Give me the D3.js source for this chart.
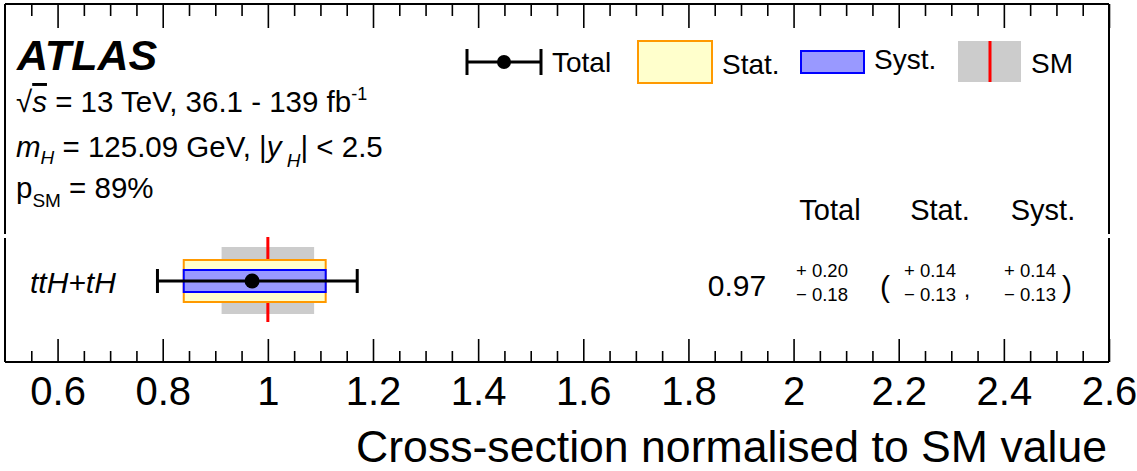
<!DOCTYPE html>
<html>
<head>
<meta charset="utf-8">
<script src="https://cdn.jsdelivr.net/npm/d3@7"></script>
<style>
  html, body { margin: 0; padding: 0; background: #fff; }
  svg { display: block; font-family: "Liberation Sans", Arial, Helvetica, sans-serif; }
</style>
</head>
<body>
<svg id="chart" width="1137" height="471"></svg>
<script>
// Measured cross-section, normalised to the SM prediction
const categories = ["ttH+tH"];
const central    = [0.97];
const totalUp    = [0.20];
const totalDown  = [0.18];
const statUp     = [0.14];
const statDown   = [0.13];
const systUp     = [0.14];
const systDown   = [0.13];
// SM prediction and its theory band
const smValue    = [1.0];
const smUp       = [0.088];
const smDown     = [0.088];
// Axis
const majorTicks = [0.6, 0.8, 1.0, 1.2, 1.4, 1.6, 1.8, 2.0, 2.2, 2.4, 2.6];
const minorTicks = d3.range(0.55, 2.6, 0.05).map(v => +v.toFixed(2))
  .filter(v => !majorTicks.some(m => Math.abs(m - v) < 1e-6));
const tickFormat = v => (Math.abs(v - Math.round(v)) < 1e-9 ? String(Math.round(v)) : v.toFixed(1));

const svg = d3.select("#chart");
const frameL = 5, frameR = 1109, frameT = 4, frameB = 362;

const x = d3.scaleLinear().domain([0.5, 2.6]).range([frameL, frameR]);
const y = d3.scaleBand().domain(categories).range([238, 324]);
const yc = c => y(c) + y.bandwidth() / 2;

const sans = '"Liberation Sans", Arial, Helvetica, sans-serif';

// ---- frame (upper and lower pads meet with a small gap on the sides)
const frame = svg.append("g").attr("stroke", "#000").attr("stroke-width", 2).attr("fill", "none");
frame.append("line").attr("x1", frameL).attr("x2", frameR).attr("y1", frameT).attr("y2", frameT);
frame.append("line").attr("x1", frameL).attr("x2", frameR).attr("y1", frameB).attr("y2", frameB);
[[frameT, 234], [238, frameB]].forEach(([a, b]) => {
  frame.append("line").attr("x1", frameL).attr("x2", frameL).attr("y1", a).attr("y2", b);
  frame.append("line").attr("x1", frameR).attr("x2", frameR).attr("y1", a).attr("y2", b);
});

// ---- ticks on top and bottom edges
function tickAxis(gen, yPos, size, values) {
  const g = svg.append("g").attr("transform", `translate(0,${yPos})`)
    .call(gen(x).tickValues(values).tickSizeInner(size).tickSizeOuter(0).tickFormat(tickFormat));
  g.select(".domain").remove();
  g.selectAll(".tick line").attr("stroke", "#000").attr("stroke-width", 1.6);
  return g;
}
const bMajor = tickAxis(d3.axisBottom, frameB, -23, majorTicks);
tickAxis(d3.axisBottom, frameB, -11, minorTicks).selectAll("text").remove();
tickAxis(d3.axisTop, frameT, -24, majorTicks).selectAll("text").remove();
tickAxis(d3.axisTop, frameT, -12, minorTicks).selectAll("text").remove();

bMajor.selectAll(".tick text")
  .attr("y", 43).attr("dy", null)
  .attr("font-family", sans).attr("font-size", 40).attr("fill", "#000");

svg.append("text")
  .attr("x", 1107).attr("y", 462).attr("text-anchor", "end")
  .attr("font-size", 44.6).attr("fill", "#000")
  .text("Cross-section normalised to SM value");

// ---- per-category marks: SM band, SM line, stat/syst boxes, total error bar
const plot = svg.append("g");
categories.forEach((c, i) => {
  const cy = yc(c);
  plot.append("rect")
    .attr("x", x(smValue[i] - smDown[i])).attr("width", x(smValue[i] + smUp[i]) - x(smValue[i] - smDown[i]))
    .attr("y", cy - 34).attr("height", 67).attr("fill", "#cccccc");
  plot.append("line")
    .attr("x1", x(smValue[i])).attr("x2", x(smValue[i]))
    .attr("y1", cy - 44).attr("y2", cy + 41)
    .attr("stroke", "#ff0000").attr("stroke-width", 3);
  plot.append("rect")
    .attr("x", x(central[i] - statDown[i])).attr("width", x(central[i] + statUp[i]) - x(central[i] - statDown[i]))
    .attr("y", cy - 21).attr("height", 42)
    .attr("fill", "#ffffcc").attr("stroke", "#ff9900").attr("stroke-width", 2);
  plot.append("rect")
    .attr("x", x(central[i] - systDown[i])).attr("width", x(central[i] + systUp[i]) - x(central[i] - systDown[i]))
    .attr("y", cy - 11).attr("height", 22)
    .attr("fill", "#9999ff").attr("stroke", "#0000ff").attr("stroke-width", 2);
  const lo = x(central[i] - totalDown[i]), hi = x(central[i] + totalUp[i]);
  const eb = plot.append("g").attr("stroke", "#000").attr("stroke-width", 3);
  eb.append("line").attr("x1", lo).attr("x2", hi).attr("y1", cy).attr("y2", cy);
  eb.append("line").attr("x1", lo).attr("x2", lo).attr("y1", cy - 12).attr("y2", cy + 12);
  eb.append("line").attr("x1", hi).attr("x2", hi).attr("y1", cy - 12).attr("y2", cy + 12);
  plot.append("circle").attr("cx", x(central[i])).attr("cy", cy).attr("r", 7.5).attr("fill", "#000");

  // category label
  svg.append("text").attr("x", 30).attr("y", cy + 12)
    .attr("font-size", 30).attr("font-style", "italic").text(c);

  // numeric summary
  const fmt = v => v.toFixed(2);
  svg.append("text").attr("x", 737).attr("y", cy + 15).attr("text-anchor", "middle")
    .attr("font-size", 30).text(central[i].toFixed(2));
  const pair = (xp, up, dn) => {
    svg.append("text").attr("x", xp).attr("y", cy - 4).attr("font-size", 18.5).text("+ " + fmt(up));
    svg.append("text").attr("x", xp).attr("y", cy + 20).attr("font-size", 18.5).text("\u2212 " + fmt(dn));
  };
  pair(796, totalUp[i], totalDown[i]);
  svg.append("text").attr("x", 880).attr("y", cy + 16).attr("font-size", 30).text("(");
  pair(904, statUp[i], statDown[i]);
  svg.append("text").attr("x", 964).attr("y", cy + 16).attr("font-size", 22).text(",");
  pair(1004, systUp[i], systDown[i]);
  svg.append("text").attr("x", 1062).attr("y", cy + 16).attr("font-size", 30).text(")");
});

// column headers
[["Total", 830], ["Stat.", 940], ["Syst.", 1043]].forEach(([t, xp]) => {
  svg.append("text").attr("x", xp).attr("y", 220).attr("text-anchor", "middle")
    .attr("font-size", 29).text(t);
});

// ---- ATLAS label and info text
svg.append("text").attr("x", 17).attr("y", 70)
  .attr("font-size", 43).attr("font-weight", "bold").attr("font-style", "italic").text("ATLAS");

const l2 = svg.append("text").attr("x", 16).attr("y", 112).attr("font-size", 29.5);
l2.append("tspan").text("\u221A");
l2.append("tspan").attr("font-style", "italic").attr("text-decoration", "overline").text("s");
l2.append("tspan").text(" = 13 TeV, 36.1 - 139 fb");
l2.append("tspan").attr("dy", -12).attr("font-size", 18).text("-1");

const l3 = svg.append("text").attr("x", 16).attr("y", 157).attr("font-size", 29.5);
l3.append("tspan").attr("font-style", "italic").text("m");
l3.append("tspan").attr("font-style", "italic").attr("font-size", 19).attr("dy", 7).text("H");
l3.append("tspan").attr("dy", -7).text(" = 125.09 GeV, |");
l3.append("tspan").attr("font-style", "italic").text("y");
l3.append("tspan").attr("font-style", "italic").attr("font-size", 19).attr("dy", 10).text(" H");
l3.append("tspan").attr("dy", -10).text("| < 2.5");

const l4 = svg.append("text").attr("x", 16).attr("y", 198).attr("font-size", 29.5);
l4.append("tspan").text("p");
l4.append("tspan").attr("font-size", 19).attr("dy", 9).text("SM");
l4.append("tspan").attr("dy", -9).text(" = 89%");

// ---- legend
const lg = svg.append("g");
// Total
lg.append("g").attr("stroke", "#000").attr("stroke-width", 3).call(g => {
  g.append("line").attr("x1", 467).attr("x2", 541).attr("y1", 62).attr("y2", 62);
  g.append("line").attr("x1", 467).attr("x2", 467).attr("y1", 49).attr("y2", 75);
  g.append("line").attr("x1", 541).attr("x2", 541).attr("y1", 49).attr("y2", 75);
});
lg.append("circle").attr("cx", 504).attr("cy", 62).attr("r", 7).attr("fill", "#000");
lg.append("text").attr("x", 552).attr("y", 72).attr("font-size", 28).text("Total");
// Stat.
lg.append("rect").attr("x", 638).attr("y", 41).attr("width", 74).attr("height", 42)
  .attr("fill", "#ffffcc").attr("stroke", "#ff9900").attr("stroke-width", 2);
lg.append("text").attr("x", 722).attr("y", 74).attr("font-size", 28).text("Stat.");
// Syst.
lg.append("rect").attr("x", 801).attr("y", 51).attr("width", 63).attr("height", 22)
  .attr("fill", "#9999ff").attr("stroke", "#0000ff").attr("stroke-width", 2);
lg.append("text").attr("x", 874).attr("y", 69).attr("font-size", 28).text("Syst.");
// SM
lg.append("rect").attr("x", 958).attr("y", 41).attr("width", 63).attr("height", 41).attr("fill", "#cccccc");
lg.append("line").attr("x1", 990).attr("x2", 990).attr("y1", 41).attr("y2", 82)
  .attr("stroke", "#ff0000").attr("stroke-width", 3);
lg.append("text").attr("x", 1031).attr("y", 73).attr("font-size", 28).text("SM");
</script>
</body>
</html>
